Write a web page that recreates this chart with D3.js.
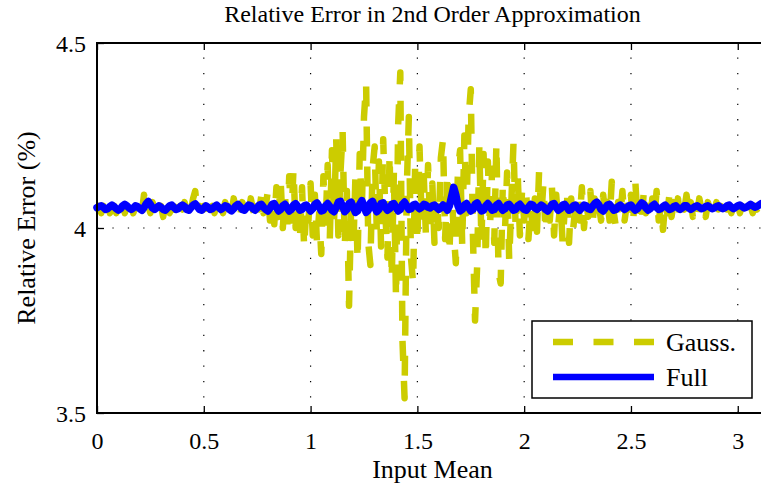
<!DOCTYPE html>
<html>
<head>
<meta charset="utf-8">
<script src="https://cdn.jsdelivr.net/npm/d3@7"></script>
<style>
  html, body { margin: 0; padding: 0; background: #fff; }
  svg { display: block; }
  text { font-family: "Liberation Serif", "Times New Roman", serif; fill: #000; }
</style>
</head>
<body>
<svg id="chart" width="761" height="490"></svg>
<script>
// ---- data ----
const xStart = 0;
const xStep = 0.01;
const xTicks = [0, 0.5, 1, 1.5, 2, 2.5, 3];
const xTickLabels = ["0", "0.5", "1", "1.5", "2", "2.5", "3"];
const yTicks = [3.5, 4, 4.5];
const yTickLabels = ["3.5", "4", "4.5"];
const seriesNames = ["Gauss.", "Full"];

const gaussValues = [
  4.05, 4.06, 4.04, 4.06, 4.05, 4.07, 4.04, 4.05, 4.06, 4.04,
  4.06, 4.05, 4.07, 4.04, 4.06, 4.05, 4.08, 4.04, 4.06, 4.05,
  4.07, 4.04, 4.09, 4.05, 4.06, 4.04, 4.07, 4.05, 4.06, 4.04,
  4.06, 4.03, 4.07, 4.05, 4.04, 4.06, 4.05, 4.07, 4.04, 4.06,
  4.05, 4.07, 4.04, 4.06, 4.05, 4.08, 4.10, 4.04, 4.06, 4.05,
  4.06, 4.04, 4.07, 4.05, 4.06, 4.04, 4.07, 4.05, 4.06, 4.04,
  4.07, 4.05, 4.06, 4.04, 4.08, 4.05, 4.06, 4.03, 4.07, 4.05,
  4.06, 4.04, 4.08, 4.05, 4.03, 4.07, 4.05, 4.09, 4.04, 4.06,
  4.10, 4.02, 4.07, 4.01, 4.11, 4.03, 4.125, 4.00, 4.09, 3.99,
  4.14, 4.02, 4.16, 4.00, 4.08, 3.97, 4.11, 3.945, 4.06, 4.02,
  4.12, 3.98, 4.09, 3.96, 4.04, 3.93, 4.14, 4.00, 4.17, 3.97,
  4.21, 4.02, 4.24, 3.98, 4.15, 4.26, 3.95, 4.10, 3.79, 4.06,
  3.94, 4.14, 3.91, 4.20, 4.05, 4.30, 4.39, 3.96, 3.90, 4.16,
  4.22, 3.99, 4.18, 3.95, 4.24, 4.04, 3.92, 4.20, 3.86, 4.15,
  3.81, 4.28, 4.42, 3.70, 3.54, 4.10, 4.30, 3.92, 3.85, 4.18,
  3.96, 4.22, 4.02, 4.14, 3.98, 4.17, 4.00, 4.12, 3.96, 4.08,
  4.00, 4.19, 4.24, 3.97, 4.15, 3.93, 4.11, 3.99, 3.905, 4.16,
  4.21, 3.95, 4.25, 4.04, 4.30, 4.375, 3.98, 3.75, 3.90, 4.22,
  3.96, 4.20, 3.92, 4.18, 4.00, 4.16, 3.96, 4.23, 3.88, 3.85,
  4.12, 3.99, 4.15, 3.91, 4.07, 4.23, 4.00, 4.14, 3.98, 4.10,
  4.02, 4.09, 3.97, 4.06, 4.00, 4.08, 3.99, 4.157, 4.03, 4.12,
  3.99, 4.08, 4.02, 4.11, 3.98, 4.09, 4.01, 4.07, 3.96, 4.05,
  4.10, 3.96, 4.08, 4.00, 4.06, 4.09, 4.02, 4.11, 4.00, 4.07,
  4.03, 4.10, 4.01, 4.08, 4.04, 4.06, 4.02, 4.09, 4.03, 4.07,
  4.02, 4.125, 4.04, 4.00, 4.07, 4.03, 4.10, 4.02, 4.06, 4.04,
  4.09, 4.01, 4.13, 4.03, 4.07, 4.01, 4.10, 4.04, 4.06, 4.02,
  4.08, 4.03, 4.10, 4.02, 4.06, 3.995, 4.07, 4.04, 4.09, 4.03,
  4.07, 4.04, 4.08, 4.03, 4.06, 4.05, 4.09, 4.04, 4.07, 4.03,
  4.06, 4.04, 4.08, 4.05, 4.06, 4.03, 4.07, 4.05, 4.06, 4.04,
  4.07, 4.05, 4.06, 4.04, 4.07, 4.05, 4.06, 4.04, 4.06, 4.05,
  4.07, 4.04, 4.06, 4.05, 4.07, 4.05, 4.06, 4.04, 4.06, 4.05,
  4.07, 4.05, 4.06, 4.05, 4.06
];

const fullValues = [
  4.055, 4.058, 4.06, 4.056, 4.05, 4.052, 4.058, 4.062, 4.058, 4.052,
  4.048, 4.052, 4.06, 4.064, 4.06, 4.054, 4.05, 4.054, 4.06, 4.058,
  4.052, 4.048, 4.055, 4.065, 4.072, 4.064, 4.054, 4.05, 4.055, 4.06,
  4.056, 4.05, 4.048, 4.054, 4.06, 4.062, 4.056, 4.05, 4.052, 4.058,
  4.062, 4.058, 4.05, 4.048, 4.055, 4.062, 4.065, 4.058, 4.05, 4.048,
  4.054, 4.06, 4.056, 4.05, 4.052, 4.058, 4.062, 4.056, 4.05, 4.054,
  4.06, 4.058, 4.05, 4.046, 4.052, 4.06, 4.064, 4.058, 4.05, 4.048,
  4.055, 4.062, 4.06, 4.052, 4.048, 4.054, 4.062, 4.064, 4.056, 4.05,
  4.046, 4.054, 4.064, 4.066, 4.056, 4.046, 4.05, 4.06, 4.064, 4.055,
  4.046, 4.05, 4.062, 4.066, 4.058, 4.048, 4.05, 4.06, 4.062, 4.054,
  4.046, 4.052, 4.064, 4.068, 4.058, 4.046, 4.048, 4.06, 4.066, 4.058,
  4.048, 4.044, 4.056, 4.07, 4.072, 4.058, 4.044, 4.05, 4.066, 4.07,
  4.056, 4.042, 4.046, 4.064, 4.074, 4.06, 4.042, 4.048, 4.068, 4.072,
  4.056, 4.044, 4.05, 4.066, 4.068, 4.056, 4.048, 4.052, 4.064, 4.066,
  4.056, 4.046, 4.05, 4.064, 4.07, 4.06, 4.05, 4.052, 4.062, 4.064,
  4.058, 4.052, 4.056, 4.064, 4.062, 4.056, 4.054, 4.06, 4.062, 4.056,
  4.05, 4.054, 4.062, 4.058, 4.048, 4.06, 4.085, 4.11, 4.09, 4.06,
  4.046, 4.05, 4.062, 4.066, 4.056, 4.046, 4.05, 4.064, 4.068, 4.056,
  4.046, 4.048, 4.06, 4.066, 4.058, 4.048, 4.05, 4.062, 4.066, 4.056,
  4.048, 4.052, 4.062, 4.064, 4.056, 4.048, 4.05, 4.06, 4.064, 4.056,
  4.05, 4.048, 4.056, 4.064, 4.062, 4.054, 4.05, 4.056, 4.062, 4.058,
  4.05, 4.046, 4.054, 4.064, 4.066, 4.056, 4.048, 4.052, 4.062, 4.064,
  4.056, 4.048, 4.05, 4.06, 4.062, 4.054, 4.048, 4.054, 4.062, 4.06,
  4.052, 4.05, 4.058, 4.066, 4.07, 4.062, 4.05, 4.046, 4.054, 4.062,
  4.064, 4.056, 4.048, 4.05, 4.058, 4.062, 4.056, 4.05, 4.054, 4.06,
  4.062, 4.054, 4.048, 4.052, 4.06, 4.068, 4.064, 4.054, 4.048, 4.052,
  4.06, 4.064, 4.056, 4.05, 4.052, 4.058, 4.062, 4.056, 4.05, 4.052,
  4.058, 4.06, 4.054, 4.05, 4.054, 4.06, 4.06, 4.054, 4.05, 4.054,
  4.058, 4.06, 4.056, 4.052, 4.054, 4.058, 4.06, 4.056, 4.052, 4.054,
  4.058, 4.06, 4.055, 4.052, 4.055, 4.06, 4.062, 4.056, 4.052, 4.056,
  4.06, 4.062, 4.058, 4.054, 4.056, 4.06, 4.064, 4.06, 4.056, 4.058,
  4.062, 4.066, 4.062, 4.058, 4.064
];

// ---- layout ----
const L = 97, R = 768, T = 43, B = 413;
const fontTick = 24, fontLabel = 26, fontTitle = 24, fontLegend = 26;

const svg = d3.select("#chart");
const x = d3.scaleLinear().domain([0, Math.PI]).range([L, R]);
const y = d3.scaleLinear().domain([3.5, 4.5]).range([B, T]);

const toPoints = vals => vals.map((v, i) => [xStart + i * xStep, v]);

// grid (dotted)
const grid = svg.append("g").attr("class", "grid");
grid.selectAll("line.vx").data(xTicks.filter(t => t > 0)).enter().append("line")
  .attr("x1", d => x(d)).attr("x2", d => x(d)).attr("y1", B).attr("y2", T)
  .attr("stroke", "#000").attr("stroke-width", 1.2).attr("stroke-dasharray", "1.3,14.1");
grid.selectAll("line.hy").data(yTicks.filter(t => t > 3.5 && t < 4.5)).enter().append("line")
  .attr("x1", L).attr("x2", R).attr("y1", d => y(d)).attr("y2", d => y(d))
  .attr("stroke", "#000").attr("stroke-width", 1.2).attr("stroke-dasharray", "1.3,14.1");

// lines
const line = d3.line().x(d => x(d[0])).y(d => y(d[1]));
const plot = svg.append("g");
plot.append("path").datum(toPoints(gaussValues))
  .attr("d", line).attr("fill", "none")
  .attr("stroke", "#cccc00").attr("stroke-width", 6.5)
  .attr("stroke-dasharray", "20,20").attr("stroke-linejoin", "round").attr("stroke-linecap", "butt");
plot.append("path").datum(toPoints(fullValues))
  .attr("d", line).attr("fill", "none")
  .attr("stroke", "#0000ff").attr("stroke-width", 7.5)
  .attr("stroke-linejoin", "round").attr("stroke-linecap", "round");

// axes
const xAxis = svg.append("g").attr("transform", `translate(0,${B})`)
  .call(d3.axisBottom(x).tickValues(xTicks).tickFormat((d, i) => xTickLabels[i])
    .tickSizeInner(-7).tickSizeOuter(0).tickPadding(19));
const xAxisTop = svg.append("g").attr("transform", `translate(0,${T})`)
  .call(d3.axisTop(x).tickValues(xTicks).tickFormat("").tickSizeInner(-7).tickSizeOuter(0));
const yAxis = svg.append("g").attr("transform", `translate(${L},0)`)
  .call(d3.axisLeft(y).tickValues(yTicks).tickFormat((d, i) => yTickLabels[i])
    .tickSizeInner(-7).tickSizeOuter(0).tickPadding(11));
[xAxis, xAxisTop, yAxis].forEach(g => {
  g.select(".domain").remove();
  g.selectAll(".tick line").attr("stroke", "#000").attr("stroke-width", 1.3);
  g.selectAll("text").attr("font-size", fontTick)
    .attr("font-family", '"Liberation Serif", "Times New Roman", serif').attr("fill", "#000");
});
yAxis.selectAll("text").attr("dy", "0.35em");

// box
svg.append("rect").attr("x", L).attr("y", T).attr("width", R - L).attr("height", B - T)
  .attr("fill", "none").attr("stroke", "#000").attr("stroke-width", 2);

// titles
svg.append("text").attr("x", (L + R) / 2).attr("y", 22).attr("text-anchor", "middle")
  .attr("font-size", fontTitle).text("Relative Error in 2nd Order Approximation");
svg.append("text").attr("x", (L + R) / 2).attr("y", 478).attr("text-anchor", "middle")
  .attr("font-size", fontLabel).text("Input Mean");
svg.append("text").attr("transform", `translate(35,${(T + B) / 2}) rotate(-90)`)
  .attr("text-anchor", "middle").attr("font-size", fontLabel).text("Relative Error (%)");

// legend
const lg = svg.append("g");
lg.append("rect").attr("x", 532).attr("y", 321).attr("width", 220).attr("height", 77)
  .attr("fill", "#fff").attr("stroke", "#000").attr("stroke-width", 1.5);
const legendItems = [
  { name: seriesNames[0], color: "#cccc00", dash: "20,20.5", yy: 342 },
  { name: seriesNames[1], color: "#0000ff", dash: null, yy: 377 }
];
legendItems.forEach(it => {
  lg.append("line").attr("x1", 553).attr("x2", 654).attr("y1", it.yy).attr("y2", it.yy)
    .attr("stroke", it.color).attr("stroke-width", 6.5)
    .attr("stroke-dasharray", it.dash);
  lg.append("text").attr("x", 666).attr("y", it.yy).attr("dy", "0.35em")
    .attr("font-size", fontLegend).text(it.name);
});
</script>
</body>
</html>
